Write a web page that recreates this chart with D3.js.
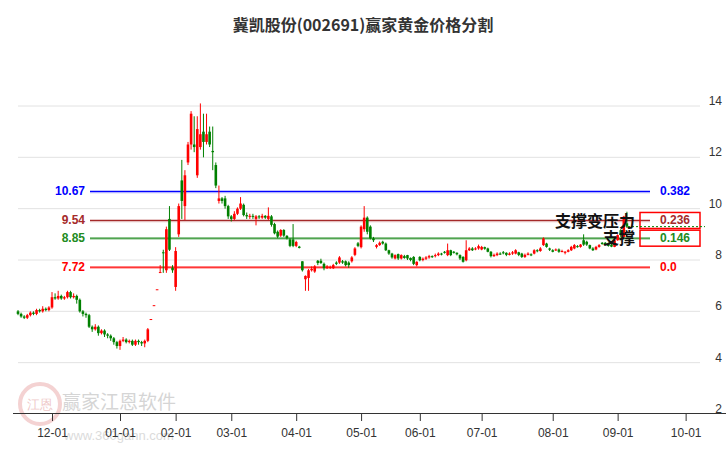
<!doctype html>
<html>
<head>
<meta charset="utf-8">
<script src="https://cdn.jsdelivr.net/npm/d3@7"></script>
<style>body{margin:0;background:#fff}</style>
</head>
<body>
<script>
// candles: [open, close, high, low]
var candles = [
[6.0,5.9,6.05,5.85],[5.9,5.8,5.95,5.75],[5.8,5.75,5.85,5.7],[5.75,5.85,5.9,5.7],[5.85,5.95,6.0,5.8],[5.95,5.9,6.0,5.85],[5.9,6.05,6.1,5.85],[6.05,6.0,6.1,5.95],[6.0,6.1,6.2,5.95],[6.1,6.05,6.15,6.0],[6.05,6.15,6.2,6.0],
[6.15,6.55,6.75,6.1],[6.55,6.5,6.7,6.45],[6.5,6.6,6.8,6.45],[6.6,6.5,6.65,6.45],[6.5,6.55,6.6,6.45],[6.55,6.75,6.8,6.5],[6.75,6.55,6.8,6.5],[6.55,6.6,6.7,6.5],[6.6,6.45,6.65,6.3],[6.45,6.0,6.5,5.95],[6.0,5.9,6.05,5.8],[5.9,5.85,5.95,5.75],[5.85,5.4,5.9,5.35],[5.4,5.3,5.45,5.2],[5.3,5.4,5.5,5.25],[5.4,5.15,5.45,5.05],[5.15,5.25,5.3,5.1],[5.25,5.1,5.3,5.0],[5.1,5.05,5.15,4.95],[5.05,4.95,5.1,4.85],[4.95,4.8,5.0,4.7],[4.8,4.65,4.85,4.55],
[4.65,4.85,4.9,4.5],[4.85,4.9,5.0,4.8],[4.9,4.8,4.95,4.75],[4.8,4.85,4.9,4.75],[4.85,4.7,4.9,4.65],[4.7,4.85,4.9,4.65],[4.85,4.8,4.9,4.7],[4.8,4.75,4.85,4.65],[4.75,4.85,4.9,4.6],[4.85,5.3,5.35,4.8],[5.7,5.7,5.7,5.7],[6.24,6.24,6.24,6.24],[6.86,6.86,6.86,6.86],[7.53,7.53,7.8,7.53],[8.3,8.28,8.4,7.5],[7.6,9.2,9.3,7.5],[9.6,8.4,10.1,8.35],[7.7,7.6,7.8,7.5],
[6.95,8.35,8.5,6.8],[9.0,10.1,10.2,8.9],[11.1,10.3,11.9,9.6],[10.1,11.3,11.5,9.55],[11.8,12.5,12.6,11.7],[12.5,13.7,13.8,12.3],[12.5,12.4,13.6,12.2],[11.3,13.1,13.6,11.2],[12.4,12.9,14.1,12.3],[13.0,12.6,13.7,12.0],[12.6,12.9,13.7,12.5],[13.0,12.5,13.2,12.4],[12.25,12.2,13.2,11.5],[11.7,10.9,11.8,10.8],[10.3,10.4,10.9,10.2],[10.4,10.3,10.45,10.2],[10.4,10.1,10.5,10.0],[10.1,9.7,10.15,9.6],
[9.7,9.6,9.75,9.5],[9.6,9.8,9.9,9.55],[9.8,10.0,10.05,9.75],[10.0,10.2,10.45,9.95],[10.15,9.75,10.2,9.7],[9.75,9.7,9.85,9.6],[9.7,9.72,9.8,9.6],[9.72,9.68,9.8,9.6],[9.6,9.7,9.75,9.35],[9.7,9.68,9.75,9.6],[9.65,9.72,9.8,9.6],[9.72,9.65,9.75,9.6],[9.6,9.72,10.05,9.55],[9.7,9.37,9.75,9.3],[9.4,9.04,9.45,9.0],[9.1,8.91,9.15,8.85],[8.95,9.17,9.2,8.9],[9.17,8.95,9.2,8.9],[8.94,8.85,8.97,8.8],[8.8,8.55,8.85,8.5],[8.8,8.55,9.4,8.5],[8.55,8.7,8.75,8.5],[8.52,8.47,8.55,8.45],
[7.95,7.6,7.95,7.55],[7.25,7.38,7.4,6.8],[7.3,7.6,7.65,6.8],[7.6,7.65,7.75,7.55],[7.55,7.75,7.8,7.5],[7.97,7.88,8.0,7.8],[7.97,7.88,8.05,7.85],[7.85,7.68,7.9,7.6],[7.68,7.75,7.8,7.65],[7.7,7.73,7.78,7.65],[7.68,7.8,7.85,7.65],[7.9,7.85,7.95,7.8],[7.9,8.1,8.15,7.85],[7.95,7.9,8.0,7.85],[7.95,7.8,7.98,7.75],[7.9,7.8,7.95,7.7],[7.95,8.1,8.15,7.9],[8.2,8.45,8.5,8.15],[8.65,8.55,8.7,8.5],
[8.5,9.3,9.35,8.45],[9.2,9.65,10.1,9.1],[9.65,9.1,9.7,9.0],[9.3,8.84,9.35,8.8],[8.84,8.77,8.9,8.7],[8.51,8.58,8.62,8.45],[8.58,8.67,8.72,8.55],[8.71,8.64,8.75,8.6],[8.64,8.38,8.68,8.35],[8.38,8.25,8.4,8.2],[8.25,8.1,8.28,8.05],[8.06,8.19,8.22,8.02],[8.23,8.06,8.25,8.0],[8.06,8.19,8.22,8.02],[8.15,8.08,8.2,8.05],[8.19,8.06,8.2,8.0],[8.08,8.0,8.1,7.95],[8.12,7.85,8.15,7.8],[7.8,7.93,7.95,7.75],
[8.12,7.99,8.15,7.95],[8.0,8.05,8.1,7.95],[8.05,8.1,8.15,8.0],[8.1,8.15,8.2,8.05],[8.15,8.12,8.18,8.08],[8.15,8.19,8.25,8.1],[8.19,8.25,8.3,8.15],[8.25,8.22,8.28,8.18],[8.32,8.28,8.35,8.25],[8.19,8.38,8.64,8.15],[8.38,8.19,8.4,8.15],[8.32,8.28,8.35,8.25],[8.28,8.22,8.3,8.18],[8.19,8.06,8.22,8.0],[8.12,7.93,8.15,7.9],[7.99,8.38,8.77,7.95],[8.38,8.45,8.5,8.35],[8.45,8.38,8.5,8.35],[8.41,8.45,8.5,8.38],[8.45,8.54,8.6,8.4],
[8.41,8.51,8.55,8.38],[8.5,8.44,8.52,8.4],[8.45,8.32,8.48,8.3],[8.32,8.15,8.35,8.1],[8.15,8.2,8.25,8.12],[8.19,8.25,8.3,8.15],[8.25,8.23,8.3,8.2],[8.3,8.28,8.35,8.22],[8.28,8.2,8.3,8.15],[8.2,8.25,8.3,8.18],[8.25,8.3,8.35,8.2],[8.25,8.38,8.42,8.22],[8.3,8.2,8.32,8.15],[8.25,8.12,8.28,8.08],[8.12,8.2,8.25,8.08],[8.2,8.25,8.3,8.18],[8.22,8.18,8.26,8.15],[8.25,8.38,8.42,8.22],[8.38,8.35,8.42,8.3],[8.35,8.45,8.5,8.32],[8.58,8.84,8.88,8.55],[8.64,8.51,8.67,8.48],[8.45,8.4,8.48,8.35],
[8.38,8.32,8.42,8.3],[8.38,8.41,8.45,8.35],[8.41,8.32,8.45,8.28],[8.32,8.35,8.4,8.3],[8.28,8.32,8.35,8.22],[8.32,8.38,8.42,8.3],[8.38,8.51,8.55,8.35],[8.45,8.58,8.62,8.42],[8.54,8.52,8.58,8.48],[8.51,8.6,8.62,8.48],[8.77,8.6,9.0,8.55],[8.71,8.6,8.75,8.55],[8.58,8.45,8.6,8.42],[8.45,8.38,8.5,8.35],[8.41,8.51,8.55,8.38],[8.51,8.58,8.62,8.48],[8.67,8.62,8.7,8.6],[8.67,8.62,8.7,8.58],[8.64,8.55,8.68,8.52],[8.6,8.52,8.64,8.5],[8.51,8.77,8.8,8.5],
[8.77,8.97,9.0,8.75],[9.16,8.97,9.2,8.9],[8.9,9.69,9.72,8.88],[9.43,9.3,9.88,9.25]
];
var tickIdx = [11, 33, 51, 69, 90, 111, 130, 150, 173, 194, 216];
var tickLabels = ["12-01","01-01","02-01","03-01","04-01","05-01","06-01","07-01","08-01","09-01","10-01"];
var yTicks = [2, 4, 6, 8, 10, 12, 14];
var fibPrices = [10.67, 9.54, 8.85, 7.72];
var fibRatios = ["0.382", "0.236", "0.146", "0.0"];
var fibColors = ["#0000ff", "#a52a2a", "#228b22", "#ff0000"];
var lastPrice = 9.3;

var W = 726, H = 450;
var svg = d3.select("body").append("svg").attr("width", W).attr("height", H)
  .style("font-family", "Arial, 'Liberation Sans', sans-serif");

var x = d3.scaleLinear().domain([0, 220]).range([18, 698]);
var y = d3.scaleLinear().domain([2, 14]).range([414, 106]);

svg.append("text").attr("x", 363).attr("y", 31).attr("text-anchor", "middle")
  .attr("font-size", 16).attr("font-weight", "bold").attr("fill", "#333")
  .style("font-family", "'Noto Sans CJK SC', sans-serif")
  .text("冀凯股份(002691)赢家黄金价格分割");

// grid
svg.selectAll(".grid").data(yTicks.filter(function(d){ return d > 2; })).enter().append("line")
  .attr("x1", 18).attr("x2", 700).attr("y1", function(d){ return y(d); }).attr("y2", function(d){ return y(d); })
  .attr("stroke", "#e2e2e2").attr("stroke-width", 1);
svg.selectAll(".yl").data(yTicks).enter().append("text")
  .attr("x", 722).attr("y", function(d){ return y(d) - 1; }).attr("text-anchor", "end")
  .attr("font-size", 12).attr("fill", "#333").text(function(d){ return d; });

// watermark
var wm = svg.append("g").attr("opacity", 0.35);
wm.append("circle").attr("cx", 40).attr("cy", 404).attr("r", 20).attr("fill", "none").attr("stroke", "#e08080").attr("stroke-width", 4);
wm.append("text").attr("x", 40).attr("y", 409).attr("text-anchor", "middle").attr("font-size", 13).attr("fill", "#d06060").text("江恩");
wm.append("text").attr("x", 62).attr("y", 409).attr("font-size", 19).attr("fill", "#888")
  .style("font-family", "'Noto Sans CJK SC', sans-serif").text("赢家江恩软件");
wm.append("text").attr("x", 64).attr("y", 440).attr("font-size", 13).attr("fill", "#999").text("www.360gann.com");

// fib lines
fibPrices.forEach(function(p, i) {
  svg.append("line").attr("x1", 90).attr("x2", 650).attr("y1", y(p)).attr("y2", y(p))
    .attr("stroke", fibColors[i]).attr("stroke-width", 1.2);
  svg.append("line").attr("x1", 90).attr("x2", 650).attr("y1", y(p) + 1).attr("y2", y(p) + 1)
    .attr("stroke", fibColors[i]).attr("stroke-opacity", 0.3).attr("stroke-width", 1.5);
  svg.append("text").attr("x", 85).attr("y", y(p) + 4).attr("text-anchor", "end")
    .attr("font-size", 12).attr("font-weight", "bold").attr("fill", fibColors[i]).text(p.toFixed(2));
  svg.append("text").attr("x", 660).attr("y", y(p) + 4)
    .attr("font-size", 12).attr("font-weight", "bold").attr("fill", fibColors[i]).text(fibRatios[i]);
  if (i == 1 || i == 2) {
    svg.append("rect").attr("x", 640).attr("y", y(p) - 8).attr("width", 60).attr("height", 16)
      .attr("fill", "none").attr("stroke", "#ff0000").attr("stroke-width", 1.5);
  }
});

svg.append("line").attr("x1", 628).attr("x2", 705).attr("y1", y(lastPrice)).attr("y2", y(lastPrice))
  .attr("stroke", "#008000").attr("stroke-dasharray", "2,2");

// candles
var g = svg.append("g");
candles.forEach(function(c, i) {
  var up = c[1] >= c[0];
  var col = up ? "#ff0000" : "#008000";
  var cx = x(i);
  g.append("line").attr("x1", cx).attr("x2", cx).attr("y1", y(c[2])).attr("y2", y(c[3]))
    .attr("stroke", col).attr("stroke-width", 1);
  var top = y(Math.max(c[0], c[1])), bot = y(Math.min(c[0], c[1]));
  g.append("rect").attr("x", cx - 1.3).attr("y", top).attr("width", 2.6)
    .attr("height", Math.max(1, bot - top)).attr("fill", col);
});

svg.append("text").attr("x", 635).attr("y", 227).attr("text-anchor", "end")
  .attr("font-size", 16).attr("font-weight", "bold").attr("fill", "#111")
  .style("font-family", "'Noto Sans CJK SC', sans-serif").text("支撑变压力");
svg.append("text").attr("x", 635).attr("y", 244).attr("text-anchor", "end")
  .attr("font-size", 16).attr("font-weight", "bold").attr("fill", "#111")
  .style("font-family", "'Noto Sans CJK SC', sans-serif").text("支撑");

// x axis
var xAxis = d3.axisBottom(x).tickValues(tickIdx).tickSize(8)
  .tickFormat(function(d, i){ return tickLabels[i]; });
var ax = svg.append("g").attr("transform", "translate(0,413)").call(xAxis);
ax.select(".domain").attr("d", "M13,0.5H726").attr("stroke", "#333");
ax.selectAll(".tick line").attr("stroke", "#333");
ax.selectAll(".tick text").attr("font-size", 12).attr("fill", "#333").attr("dy", "1.1em")
  .style("font-family", "'Liberation Sans Narrow', Arial, sans-serif");
</script>
</body>
</html>
